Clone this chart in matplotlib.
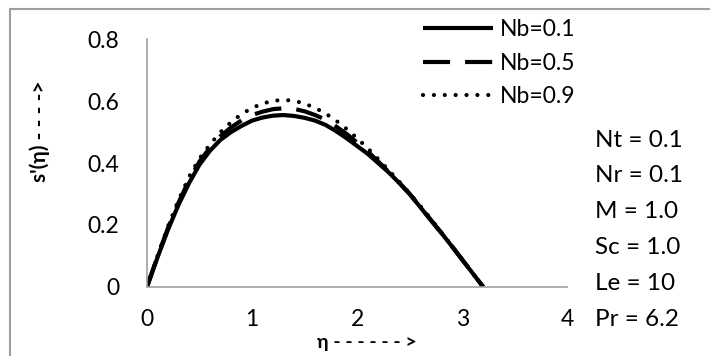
import matplotlib.pyplot as plt
from matplotlib.patches import Rectangle

plt.rcParams['font.family'] = ['Lato', 'DejaVu Sans']

eta = [0, 0.1, 0.2, 0.3, 0.4, 0.5, 0.6, 0.7, 0.8, 0.9, 1.0, 1.1, 1.2, 1.3, 1.4, 1.5, 1.6,
       1.7, 1.8, 1.9, 2.0, 2.1, 2.2, 2.3, 2.4, 2.5, 2.6, 2.7, 2.8, 2.9, 3.0, 3.1, 3.2]
nb01 = [0, 0.095, 0.185, 0.265, 0.335, 0.395, 0.44, 0.475, 0.50, 0.52, 0.537, 0.547, 0.553,
        0.555, 0.552, 0.546, 0.537, 0.523, 0.503, 0.48, 0.455, 0.43, 0.40, 0.37, 0.336,
        0.30, 0.258, 0.216, 0.175, 0.132, 0.088, 0.044, 0]
nb05 = [0, 0.098, 0.19, 0.272, 0.345, 0.405, 0.45, 0.487, 0.515, 0.538, 0.555, 0.566, 0.574,
        0.577, 0.575, 0.567, 0.555, 0.54, 0.518, 0.494, 0.466, 0.438, 0.405, 0.372, 0.337,
        0.30, 0.259, 0.217, 0.175, 0.132, 0.088, 0.044, 0]
nb09 = [0, 0.1, 0.195, 0.28, 0.355, 0.415, 0.46, 0.50, 0.532, 0.558, 0.578, 0.592, 0.601,
        0.604, 0.601, 0.592, 0.578, 0.56, 0.537, 0.51, 0.48, 0.448, 0.413, 0.377, 0.34,
        0.302, 0.262, 0.22, 0.177, 0.133, 0.089, 0.044, 0]
params = ['Nt = 0.1', 'Nr = 0.1', 'M = 1.0', 'Sc = 1.0', 'Le = 10', 'Pr = 6.2']

fig = plt.figure(figsize=(7.1, 3.56), dpi=100)
ax = fig.add_axes([0.207, 0.194, 0.592, 0.696])

ax.plot(eta, nb01, color='black', lw=3, solid_capstyle='butt', label='Nb=0.1')
ax.plot(eta, nb05, color='black', lw=3, dashes=(6.5, 3.6), label='Nb=0.5')
ax.plot(eta, nb09, color='black', lw=3, linestyle=(0, (0.01, 2.6)),
        dash_capstyle='round', label='Nb=0.9')

ax.set_xlim(0, 4)
ax.set_ylim(0, 0.8)
ax.set_xticks([0, 1, 2, 3, 4])
ax.set_xticklabels(['0', '1', '2', '3', '4'])
ax.set_yticks([0, 0.2, 0.4, 0.6, 0.8])
ax.set_yticklabels(['0', '0.2', '0.4', '0.6', '0.8'])
ax.tick_params(length=0, labelsize=16.5)
ax.tick_params(axis='x', pad=16)
ax.tick_params(axis='y', pad=20)
for s in ['top', 'right']:
    ax.spines[s].set_visible(False)
for s in ['left', 'bottom']:
    ax.spines[s].set_color('#a0a0a0')
    ax.spines[s].set_linewidth(1.2)

ax.set_ylabel("s'(η) - - - ->", fontsize=15, fontweight='bold')
ax.yaxis.set_label_coords(-0.231, 0.63)
ax.set_xlabel('η - - - - - - >', fontsize=14, fontweight='bold', va='top')
ax.xaxis.set_label_coords(0.524, -0.19)

ax.legend(loc='upper left', bbox_to_anchor=(0.583, 0.972), bbox_transform=fig.transFigure,
          frameon=False, fontsize=16.5, handlelength=3.05, handletextpad=0.3,
          labelspacing=0.55, borderpad=0.4, borderaxespad=0)

for i, p in enumerate(params):
    fig.text(0.838, 1 - (140 + i * 36) / 356, p, fontsize=17.5, va='center')

fig.add_artist(Rectangle((0.014, -0.1), 1.1, 1.075, transform=fig.transFigure,
                         fill=False, edgecolor='#a0a0a0', lw=1.5, clip_on=False))

fig.savefig('out.png', dpi=100)
